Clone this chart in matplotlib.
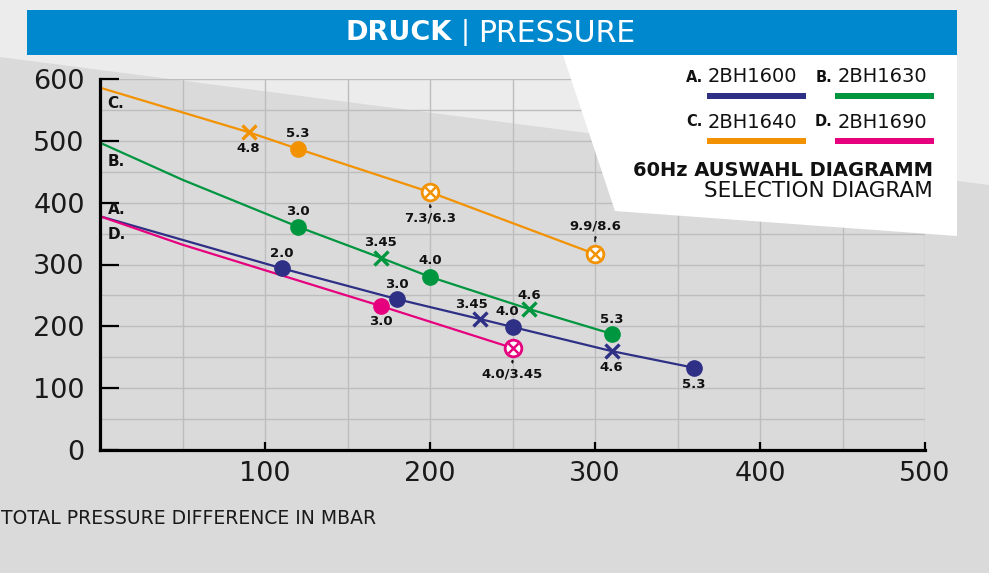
import matplotlib
matplotlib.use("Agg")
import matplotlib.pyplot as plt
from matplotlib.patches import Polygon, Rectangle

# ---------------- data ----------------
a_x = [0, 110, 180, 230, 250, 310, 360]
a_y = [378, 294, 244, 212, 199, 160, 133]
a_m = ['', 'o', 'o', 'x', 'o', 'x', 'o']
a_lab = ['', '2.0', '3.0', '3.45', '4.0', '4.6', '5.3']

b_x = [0, 50, 120, 170, 200, 260, 310]
b_y = [497, 437, 361, 311, 280, 228, 188]
b_m = ['', '', 'o', 'x', 'o', 'x', 'o']
b_lab = ['', '', '3.0', '3.45', '4.0', '4.6', '5.3']

c_x = [0, 90, 120, 200, 300]
c_y = [586, 514, 487, 417, 317]
c_m = ['', 'x', 'o', 'ox', 'ox']
c_lab = ['', '4.8', '5.3', '7.3/6.3', '9.9/8.6']

d_x = [0, 50, 170, 250]
d_y = [378, 332, 233, 165]
d_m = ['', '', 'o', 'ox']
d_lab = ['', '', '3.0', '4.0/3.45']

series_names = ['A.', 'B.', 'C.', 'D.']
models = ['2BH1600', '2BH1630', '2BH1640', '2BH1690']
x_ticks = [100, 200, 300, 400, 500]
y_ticks = [0, 100, 200, 300, 400, 500, 600]

# label offsets in pixels (dx, dy) relative to the marker
a_off = [None, (0, 15), (0, 15), (-8, 14), (-5, 15), (0, -16), (0, -17)]
b_off = [None, None, (0, 15), (0, 15), (0, 16), (0, 14), (0, 14)]
c_off = [None, (0, -16), (0, 15), (0, -26), (0, 28)]
d_off = [None, None, (0, -16), (0, -26)]

NAVY = '#2e3086'
GREEN = '#009640'
ORANGE = '#f39200'
PINK = '#e6007e'
colors = [NAVY, GREEN, ORANGE, PINK]

plt.rcParams['font.family'] = ['DejaVu Sans']

W, H = 989, 573
fig = plt.figure(figsize=(W / 100, H / 100), dpi=100)

# ---------------- background ----------------
bg = fig.add_axes([0, 0, 1, 1], zorder=0)
bg.set_xlim(0, W)
bg.set_ylim(H, 0)
bg.axis('off')
bg.add_patch(Rectangle((0, 0), W, H, color='#dadada', lw=0))
bg.add_patch(Polygon([(0, 0), (W, 0), (W, 185), (0, 57)], closed=True,
                     color='#ececec', lw=0))

# ---------------- main axes ----------------
PX = 1 / 1.389  # px -> points
left, right = 100, 925
top, bottom = 79, 450
ax = fig.add_axes([left / W, (H - bottom) / H, (right - left) / W, (bottom - top) / H], zorder=1)
ax.patch.set_alpha(0)
ax.set_xlim(0, 500)
ax.set_ylim(0, 600)
for v in range(50, 501, 50):
    ax.axvline(v, color='#bdbdbd', lw=1.0, zorder=0)
for v in range(50, 601, 50):
    ax.axhline(v, color='#bdbdbd', lw=1.0, zorder=0)

for s in ['top', 'right']:
    ax.spines[s].set_visible(False)
for s in ['left', 'bottom']:
    ax.spines[s].set_linewidth(2.3)
    ax.spines[s].set_color('black')
    ax.spines[s].set_zorder(5)

ax.set_xticks(x_ticks)
ax.set_xticklabels([str(t) for t in x_ticks])
ax.set_yticks(y_ticks)
ax.set_yticklabels([str(t) for t in y_ticks])
ax.tick_params(axis='x', direction='in', length=6, width=1.6, pad=8, labelsize=19.5,
               labelcolor='#1a1a1a')
ax.tick_params(axis='y', direction='in', length=14, width=1.6, pad=11, labelsize=19.5,
               labelcolor='#1a1a1a')


def draw_series(xs, ys, ms, labs, offs, col):
    ax.plot(xs, ys, color=col, lw=1.6, zorder=3, solid_capstyle='butt')
    for i, (x, y, m) in enumerate(zip(xs, ys, ms)):
        if m == 'o':
            ax.plot([x], [y], 'o', ms=11, color=col, zorder=4)
        elif m == 'x':
            ax.plot([x], [y], 'x', ms=10, mew=2.4, color=col, zorder=4)
        elif m == 'ox':
            ax.plot([x], [y], 'o', ms=12, mfc='white', mec=col, mew=2.0, zorder=4)
            ax.plot([x], [y], 'x', ms=6.5, mew=1.8, color=col, zorder=5)
        if labs[i]:
            dx, dy = offs[i]
            ax.annotate(labs[i], (x, y), xytext=(dx * PX, dy * PX), textcoords='offset points',
                        ha='center', va='center', fontsize=9.5, fontweight='bold',
                        color='#111111', zorder=6)
            if '/' in labs[i]:
                sgn = 1 if dy > 0 else -1
                p1 = 15 * sgn * PX
                ax.annotate('', xy=(x, y), xytext=(0, p1), textcoords='offset points',
                            arrowprops=dict(arrowstyle='-', color='#111111', lw=1.0,
                                            shrinkA=0, shrinkB=9),
                            zorder=6)
                ax.annotate('\u2022', (x, y), xytext=(0, p1), textcoords='offset points',
                            ha='center', va='center', fontsize=6, color='#111111')


draw_series(a_x, a_y, a_m, a_lab, a_off, NAVY)
draw_series(b_x, b_y, b_m, b_lab, b_off, GREEN)
draw_series(c_x, c_y, c_m, c_lab, c_off, ORANGE)
draw_series(d_x, d_y, d_m, d_lab, d_off, PINK)

# curve letters near y axis
letter_pos = {'C.': 561, 'B.': 466, 'A.': 389, 'D.': 349}
for name in series_names:
    ax.text(4.5, letter_pos[name], name, ha='left', va='center', fontsize=11,
            fontweight='bold', color='#111111', zorder=6)

# ---------------- overlay (header, legend panel) ----------------
ov = fig.add_axes([0, 0, 1, 1], zorder=2)
ov.patch.set_alpha(0)
ov.set_xlim(0, W)
ov.set_ylim(H, 0)
ov.axis('off')

ov.add_patch(Polygon([(563, 55), (957, 55), (957, 236), (615, 211)], closed=True,
                     color='white', lw=0))
ov.add_patch(Rectangle((27, 10), 930, 45, color='#0088ce', lw=0))
ov.text(452, 33, 'DRUCK', ha='right', va='center', fontsize=19.5, fontweight='bold', color='white')
ov.text(465, 32, '|', ha='center', va='center', fontsize=19, color='white')
ov.text(478, 33, 'PRESSURE', ha='left', va='center', fontsize=21.5, color='white')

leg_x = [(703, 708, 707), (832, 838, 835)]
leg_y = [(77, 96), (122, 141)]
for k in range(4):
    r, c = divmod(k, 2)
    lx, tx, bx = leg_x[c]
    ty, by = leg_y[r]
    ov.text(lx, ty, series_names[k], ha='right', va='center', fontsize=10.5,
            fontweight='bold', color='#111111')
    ov.text(tx, ty, models[k], ha='left', va='center', fontsize=14, color='#111111')
    ov.add_patch(Rectangle((bx, by - 3), 99, 6, color=colors[k], lw=0))

ov.text(933, 170, '60Hz AUSWAHL DIAGRAMM', ha='right', va='center', fontsize=14,
        fontweight='bold', color='#111111')
ov.text(933, 191, 'SELECTION DIAGRAM', ha='right', va='center', fontsize=15.5,
        color='#111111')

ov.text(1, 519, 'TOTAL PRESSURE DIFFERENCE IN MBAR', ha='left', va='center', fontsize=13.5,
        color='#1a1a1a')

fig.savefig('out.png', dpi=100)
